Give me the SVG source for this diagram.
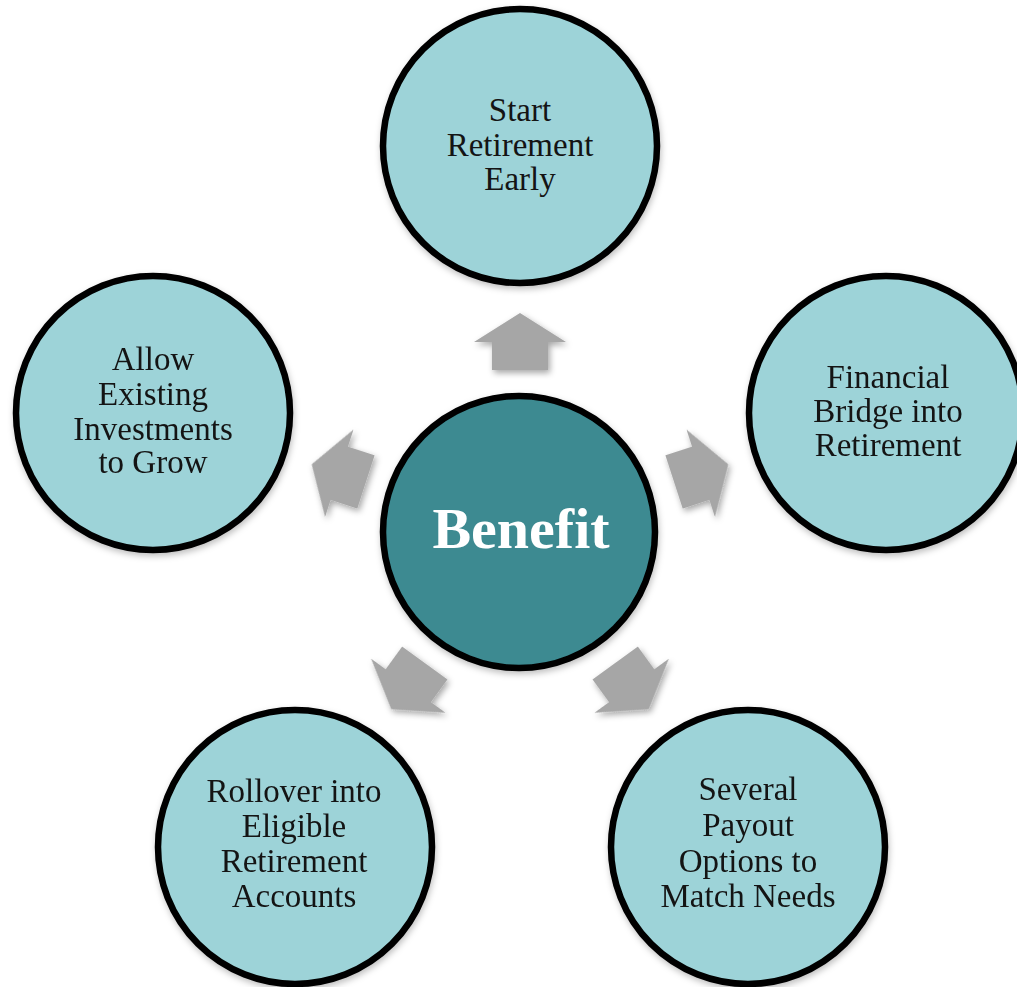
<svg xmlns="http://www.w3.org/2000/svg" width="1017" height="987" viewBox="0 0 1017 987">
  <defs>
    <filter id="sh" x="-20%" y="-20%" width="150%" height="150%">
      <feDropShadow dx="2" dy="3" stdDeviation="3" flood-color="#000" flood-opacity="0.35"/>
    </filter>
    <filter id="csh" x="-10%" y="-10%" width="130%" height="130%">
      <feDropShadow dx="1" dy="3" stdDeviation="3" flood-color="#000" flood-opacity="0.25"/>
    </filter>
    <polygon id="arr" points="0,-219 46,-190 28,-190 28,-162 -28,-162 -28,-190 -46,-190"/>
  </defs>
  <style>
    .outer { fill: #9DD3D8; stroke: #000; stroke-width: 6.5; }
    .center { fill: #3C8A91; stroke: #000; stroke-width: 6.5; }
    .lbl { font-family: "Liberation Serif", "Times New Roman", serif; font-size: 33px; fill: #141414; text-anchor: middle; }
    .big { font-family: "Liberation Serif", "Times New Roman", serif; font-size: 58px; font-weight: bold; fill: #ffffff; text-anchor: middle; }
    .arrow { fill: #A6A6A6; }
  </style>
  <rect width="1017" height="987" fill="#ffffff"/>

  <g id="connectors" transform="translate(520,532)" filter="url(#sh)">
    <use href="#arr" class="arrow"/>
    <use href="#arr" class="arrow" transform="rotate(72)"/>
    <use href="#arr" class="arrow" transform="rotate(144)"/>
    <use href="#arr" class="arrow" transform="rotate(-144)"/>
    <use href="#arr" class="arrow" transform="rotate(-72)"/>
  </g>

  <g id="node-center">
    <circle class="center" cx="519" cy="532" r="136" filter="url(#csh)"/>
    <text class="big" x="521" y="548">Benefit</text>
  </g>

  <g id="node-top">
    <circle class="outer" cx="520" cy="146" r="137" filter="url(#csh)"/>
    <text class="lbl" x="520" y="121">Start</text>
    <text class="lbl" x="520" y="156">Retirement</text>
    <text class="lbl" x="520" y="190">Early</text>
  </g>

  <g id="node-right">
    <circle class="outer" cx="886" cy="413" r="137" filter="url(#csh)"/>
    <text class="lbl" x="888" y="388">Financial</text>
    <text class="lbl" x="888" y="422">Bridge into</text>
    <text class="lbl" x="888" y="456">Retirement</text>
  </g>

  <g id="node-left">
    <circle class="outer" cx="153" cy="413" r="137" filter="url(#csh)"/>
    <text class="lbl" x="153" y="370">Allow</text>
    <text class="lbl" x="153" y="405">Existing</text>
    <text class="lbl" x="153" y="440">Investments</text>
    <text class="lbl" x="153" y="473">to Grow</text>
  </g>

  <g id="node-bottom-left">
    <circle class="outer" cx="295" cy="847" r="137" filter="url(#csh)"/>
    <text class="lbl" x="294" y="802">Rollover into</text>
    <text class="lbl" x="294" y="837">Eligible</text>
    <text class="lbl" x="294" y="872">Retirement</text>
    <text class="lbl" x="294" y="907">Accounts</text>
  </g>

  <g id="node-bottom-right">
    <circle class="outer" cx="748" cy="847" r="137" filter="url(#csh)"/>
    <text class="lbl" x="748" y="800">Several</text>
    <text class="lbl" x="748" y="836">Payout</text>
    <text class="lbl" x="748" y="872">Options to</text>
    <text class="lbl" x="748" y="907">Match Needs</text>
  </g>
</svg>
